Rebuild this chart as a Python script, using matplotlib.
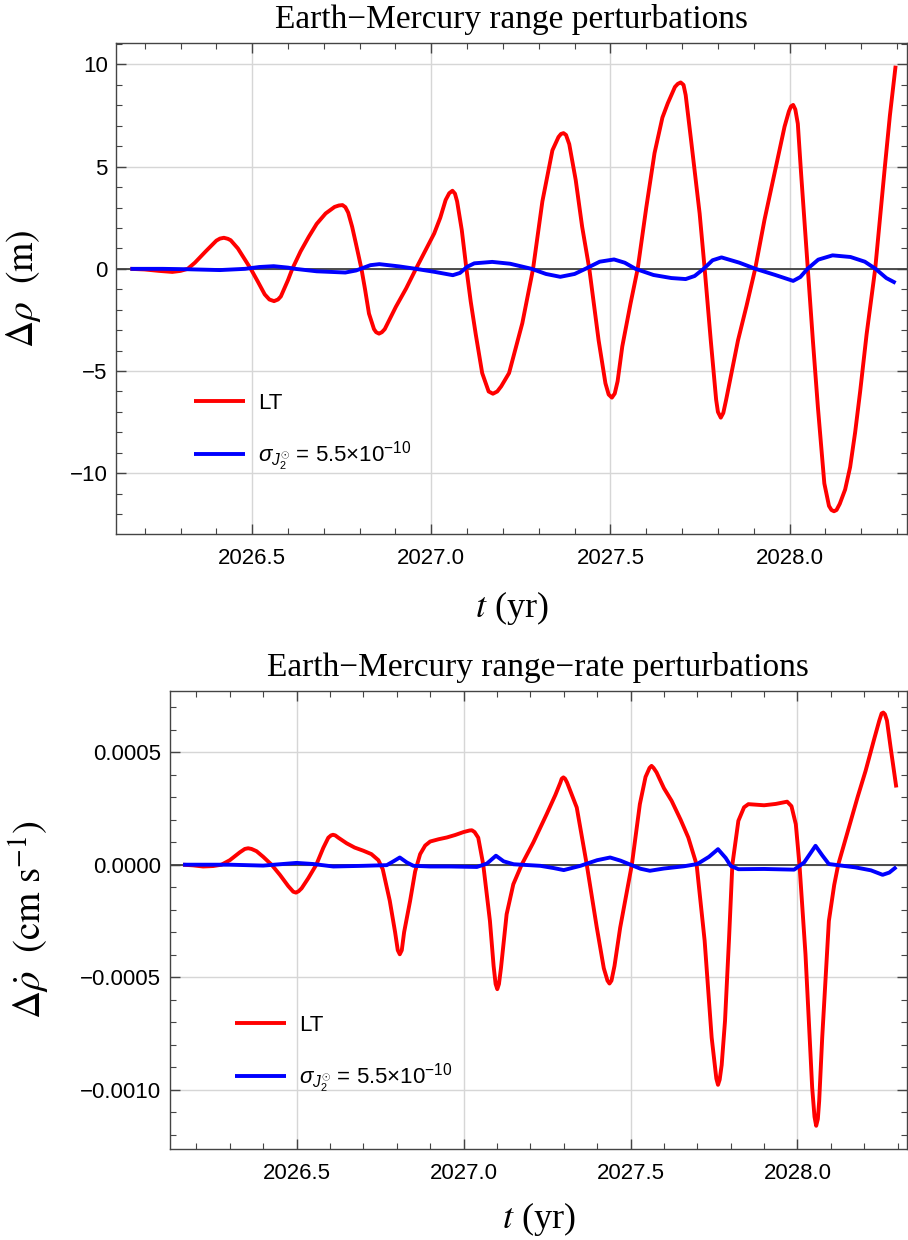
import matplotlib.pyplot as plt
from matplotlib.ticker import MultipleLocator, FuncFormatter
import numpy as np

# Earth-Mercury range perturbations (m), LT curve
t_lt_range = [2026.16, 2026.20, 2026.24, 2026.277, 2026.30, 2026.32, 2026.34, 2026.37, 2026.40, 2026.41,
              2026.421, 2026.432, 2026.44, 2026.46, 2026.48, 2026.496, 2026.515, 2026.535, 2026.548, 2026.561,
              2026.572, 2026.58, 2026.60, 2026.612, 2026.635, 2026.658, 2026.68, 2026.705, 2026.73, 2026.742,
              2026.752, 2026.76, 2026.768, 2026.779, 2026.79, 2026.805, 2026.815, 2026.826, 2026.84, 2026.846,
              2026.854, 2026.862, 2026.87, 2026.901, 2026.93, 2026.957, 2026.985, 2027.008, 2027.025, 2027.04,
              2027.05, 2027.059, 2027.066, 2027.072, 2027.085, 2027.098, 2027.11, 2027.124, 2027.142, 2027.16,
              2027.172, 2027.184, 2027.195, 2027.217, 2027.254, 2027.284, 2027.31, 2027.338, 2027.355, 2027.362,
              2027.369, 2027.376, 2027.385, 2027.403, 2027.421, 2027.441, 2027.467, 2027.486, 2027.495, 2027.504,
              2027.512, 2027.52, 2027.533, 2027.556, 2027.576, 2027.60, 2027.623, 2027.645, 2027.66, 2027.68,
              2027.688, 2027.696, 2027.704, 2027.71, 2027.725, 2027.749, 2027.763, 2027.78, 2027.795, 2027.80,
              2027.808, 2027.815, 2027.823, 2027.856, 2027.88, 2027.904, 2027.93, 2027.958, 2027.986, 2027.998,
              2028.004, 2028.01, 2028.016, 2028.023, 2028.032, 2028.051, 2028.065, 2028.079, 2028.097, 2028.11,
              2028.117, 2028.124, 2028.131, 2028.14, 2028.155, 2028.169, 2028.183, 2028.197, 2028.215, 2028.239,
              2028.266, 2028.28, 2028.296]
lt_range = [0.0, -0.03, -0.10, -0.15, -0.10, 0.0, 0.3, 0.85, 1.38, 1.48,
            1.52, 1.47, 1.40, 1.0, 0.45, 0.0, -0.6, -1.25, -1.50, -1.58,
            -1.50, -1.35, -0.55, 0.0, 0.85, 1.57, 2.20, 2.71, 3.03, 3.10,
            3.12, 3.02, 2.75, 2.06, 1.2, 0.0, -1.0, -2.19, -2.95, -3.10,
            -3.17, -3.10, -2.95, -1.86, -0.95, 0.0, 0.95, 1.73, 2.5, 3.37,
            3.70, 3.82, 3.68, 3.3, 1.9, 0.0, -1.6, -3.2, -5.1, -6.0,
            -6.11, -6.0, -5.75, -5.1, -2.66, 0.0, 3.3, 5.8, 6.45, 6.6,
            6.64, 6.55, 6.1, 4.35, 2.06, 0.0, -3.5, -5.6, -6.15, -6.30,
            -6.1, -5.5, -3.8, -1.7, 0.0, 3.0, 5.66, 7.4, 8.1, 8.9,
            9.05, 9.12, 9.0, 8.5, 6.3, 2.7, 0.0, -3.5, -6.4, -7.0,
            -7.28, -7.05, -6.4, -3.5, -1.8, 0.0, 2.4, 4.68, 6.96, 7.7,
            7.95, 8.02, 7.8, 7.1, 4.7, 0.0, -3.5, -6.76, -10.5, -11.6,
            -11.8, -11.86, -11.8, -11.5, -10.8, -9.7, -8.0, -6.0, -3.2, 0.0,
            5.0, 7.5, 9.94]

# range, J2 uncertainty curve
t_j2_range = [2026.16, 2026.25, 2026.32, 2026.41, 2026.48, 2026.52, 2026.56, 2026.60, 2026.62, 2026.68,
              2026.76, 2026.79, 2026.81, 2026.83, 2026.855, 2026.91, 2026.957, 2027.01, 2027.06, 2027.08,
              2027.10, 2027.12, 2027.17, 2027.22, 2027.28, 2027.32, 2027.36, 2027.40, 2027.43, 2027.47,
              2027.51, 2027.54, 2027.57, 2027.62, 2027.67, 2027.71, 2027.735, 2027.76, 2027.785, 2027.81,
              2027.86, 2027.905, 2027.96, 2028.01, 2028.03, 2028.05, 2028.08, 2028.12, 2028.17, 2028.21,
              2028.24, 2028.27, 2028.296]
j2_range = [0.0, 0.0, -0.02, -0.06, 0.0, 0.09, 0.13, 0.06, 0.0, -0.12,
            -0.18, -0.08, 0.05, 0.18, 0.23, 0.12, 0.0, -0.15, -0.31, -0.2,
            0.1, 0.27, 0.34, 0.25, 0.0, -0.25, -0.39, -0.25, 0.0, 0.35,
            0.46, 0.3, 0.0, -0.3, -0.45, -0.5, -0.35, 0.0, 0.42, 0.56,
            0.3, 0.0, -0.3, -0.59, -0.4, 0.0, 0.45, 0.66, 0.58, 0.35,
            0.0, -0.45, -0.69]

# Earth-Mercury range-rate perturbations (units of 1e-4 cm/s), LT curve
t_lt_rate = [2026.16, 2026.19, 2026.22, 2026.25, 2026.275, 2026.30, 2026.33, 2026.345, 2026.355, 2026.365,
             2026.38, 2026.40, 2026.425, 2026.45, 2026.475, 2026.49, 2026.498, 2026.506, 2026.515, 2026.535,
             2026.559, 2026.58, 2026.595, 2026.603, 2026.609, 2026.616, 2026.625, 2026.65, 2026.674, 2026.70,
             2026.724, 2026.745, 2026.758, 2026.779, 2026.795, 2026.803, 2026.809, 2026.815, 2026.822, 2026.84,
             2026.855, 2026.870, 2026.885, 2026.900, 2026.925, 2026.950, 2026.975, 2027.00, 2027.018, 2027.025,
             2027.033, 2027.044, 2027.059, 2027.079, 2027.09, 2027.096, 2027.101, 2027.106, 2027.112, 2027.129,
             2027.149, 2027.174, 2027.209, 2027.249, 2027.275, 2027.29, 2027.294, 2027.299, 2027.304, 2027.31,
             2027.339, 2027.369, 2027.399, 2027.42, 2027.431, 2027.437, 2027.443, 2027.452, 2027.469, 2027.504,
             2027.528, 2027.545, 2027.557, 2027.563, 2027.569, 2027.578, 2027.60, 2027.623, 2027.65, 2027.673,
             2027.698, 2027.722, 2027.743, 2027.757, 2027.762, 2027.767, 2027.773, 2027.783, 2027.795, 2027.805,
             2027.823, 2027.84, 2027.853, 2027.88, 2027.90, 2027.935, 2027.969, 2027.982, 2027.995, 2028.006,
             2028.024, 2028.044, 2028.051, 2028.056, 2028.061, 2028.065, 2028.074, 2028.094, 2028.11, 2028.122,
             2028.154, 2028.18, 2028.204, 2028.23, 2028.245, 2028.252, 2028.257, 2028.262, 2028.268, 2028.279,
             2028.296]
lt_rate = [0.0, -0.03, -0.08, -0.06, 0.0, 0.2, 0.55, 0.70, 0.73, 0.70,
           0.6, 0.35, 0.0, -0.45, -0.95, -1.20, -1.24, -1.18, -1.05, -0.6,
           0.0, 0.75, 1.2, 1.30, 1.33, 1.30, 1.2, 0.95, 0.76, 0.62,
           0.47, 0.2, -0.2, -1.6, -3.0, -3.8, -3.98, -3.8, -3.0, -1.6,
           -0.3, 0.47, 0.85, 1.03, 1.13, 1.21, 1.32, 1.45, 1.52, 1.53,
           1.45, 1.2, 0.0, -2.5, -4.5, -5.3, -5.53, -5.3, -4.6, -2.2,
           -0.87, 0.0, 0.99, 2.25, 3.1, 3.65, 3.82, 3.88, 3.82, 3.65,
           2.54, 0.0, -2.79, -4.6, -5.15, -5.28, -5.15, -4.5, -2.8, 0.0,
           2.69, 3.9, 4.3, 4.39, 4.3, 4.1, 3.4, 2.84, 2.0, 1.21,
           0.0, -3.38, -7.68, -9.5, -9.78, -9.55, -8.9, -6.94, -3.3, 0.0,
           1.95, 2.55, 2.69, 2.66, 2.64, 2.7, 2.8, 2.6, 1.8, 0.0,
           -3.98, -9.9, -11.2, -11.6, -11.3, -10.5, -7.7, -2.5, -0.9, 0.0,
           1.65, 3.0, 4.17, 5.6, 6.4, 6.72, 6.76, 6.68, 6.4, 5.2,
           3.43]

# range-rate, J2 uncertainty curve
t_j2_rate = [2026.16, 2026.30, 2026.40, 2026.50, 2026.55, 2026.61, 2026.70, 2026.77, 2026.79, 2026.809,
             2026.83, 2026.85, 2026.90, 2026.96, 2027.04, 2027.07, 2027.097, 2027.12, 2027.15, 2027.23,
             2027.27, 2027.30, 2027.35, 2027.40, 2027.439, 2027.47, 2027.50, 2027.53, 2027.558, 2027.60,
             2027.66, 2027.70, 2027.735, 2027.762, 2027.785, 2027.80, 2027.823, 2027.90, 2027.99, 2028.02,
             2028.054, 2028.075, 2028.094, 2028.174, 2028.22, 2028.255, 2028.275, 2028.296]
j2_rate = [0.0, 0.0, -0.04, 0.08, 0.03, -0.08, -0.05, -0.02, 0.15, 0.32,
           0.1, -0.05, -0.08, -0.08, -0.1, 0.05, 0.4, 0.15, 0.02, -0.05,
           -0.15, -0.24, -0.05, 0.2, 0.32, 0.18, 0.0, -0.18, -0.27, -0.17,
           -0.07, 0.03, 0.35, 0.69, 0.3, -0.05, -0.2, -0.19, -0.22, 0.1,
           0.84, 0.4, 0.03, -0.12, -0.25, -0.45, -0.35, -0.1]

titles = ['Earth\u2212Mercury range perturbations', 'Earth\u2212Mercury range\u2212rate perturbations']
ylabels = [r'$\Delta\rho\ \ (\mathrm{m})$', r'$\Delta\dot{\rho}\ \ (\mathrm{cm\ s}^{-1})$']
legend_labels = ['LT', r'$\sigma_{J_2^{\odot}}$' + ' = 5.5\u00d710' + r'$^{-10}$']

plt.rcParams['font.family'] = ['Liberation Sans', 'DejaVu Sans']
plt.rcParams['mathtext.fontset'] = 'custom'
plt.rcParams['mathtext.rm'] = 'Liberation Sans'
plt.rcParams['mathtext.it'] = 'Liberation Sans:italic'
plt.rcParams['axes.unicode_minus'] = True

fig = plt.figure(figsize=(9.08, 12.4), dpi=100)
ax1 = fig.add_axes([0.1278, 0.5694, 0.8712, 0.3956])
ax2 = fig.add_axes([0.1869, 0.0734, 0.8120, 0.3694])


def style_axes(ax, ymajor, yminor, fmt):
    ax.set_xlim(2026.12, 2028.328)
    ax.xaxis.set_major_locator(MultipleLocator(0.5))
    ax.xaxis.set_minor_locator(MultipleLocator(0.1))
    ax.yaxis.set_major_locator(MultipleLocator(ymajor))
    ax.yaxis.set_minor_locator(MultipleLocator(yminor))
    ax.xaxis.set_major_formatter(FuncFormatter(lambda v, p: '%.1f' % v))
    ax.yaxis.set_major_formatter(FuncFormatter(lambda v, p: (fmt % v).replace('-', '\u2212')))
    ax.tick_params(which='both', direction='in', top=True, right=True, color='#444444', labelsize=16)
    ax.tick_params(which='major', length=7, width=1)
    ax.tick_params(which='minor', length=4, width=0.8)
    ax.tick_params(axis='x', pad=10)
    ax.tick_params(axis='y', pad=6)
    ax.grid(True, which='major', color='#d6d6d6', lw=1.0)
    ax.set_axisbelow(True)
    ax.axhline(0, color='#404040', lw=1.3, zorder=1.5)
    for s in ax.spines.values():
        s.set_color('#444444')
        s.set_linewidth(1.0)


line_kw = dict(lw=2.8, solid_joinstyle='round', solid_capstyle='butt', zorder=3)

# top panel
style_axes(ax1, 5, 1, '%g')
ax1.set_ylim(-12.97, 11.03)
ax1.plot(t_lt_range, lt_range, color='#ff0000', label=legend_labels[0], **line_kw)
ax1.plot(t_j2_range, j2_range, color='#0000ff', label=legend_labels[1], **line_kw)

# bottom panel
style_axes(ax2, 0.0005, 0.0001, '%.4f')
ax2.set_ylim(-0.001263, 0.000772)
ax2.plot(t_lt_rate, np.array(lt_rate) * 1e-4, color='#ff0000', label=legend_labels[0], **line_kw)
ax2.plot(t_j2_rate, np.array(j2_rate) * 1e-4, color='#0000ff', label=legend_labels[1], **line_kw)

leg_pos = [(0.0986, 0.288), (0.088, 0.293)]
ylab_x = [-0.092, -0.16]
ylab_size = [27, 28]
for ax, title, ylab, lp, yx, ys in zip([ax1, ax2], titles, ylabels, leg_pos, ylab_x, ylab_size):
    ax.set_title(title, fontsize=24, family='Liberation Serif', pad=11)
    ax.set_xlabel(r'$t$ (yr)', fontsize=26, family='Liberation Serif', math_fontfamily='stix')
    ax.xaxis.set_label_coords(0.5, -0.112)
    ax.set_ylabel(ylab, fontsize=ys, family='Liberation Serif', math_fontfamily='stix')
    ax.yaxis.set_label_coords(yx, 0.5)
    ax.legend(loc='upper left', bbox_to_anchor=lp, frameon=False, fontsize=16,
              handlelength=2.3, handletextpad=0.6, labelspacing=1.15,
              borderaxespad=0, borderpad=0)

fig.savefig('out.png', dpi=100)
